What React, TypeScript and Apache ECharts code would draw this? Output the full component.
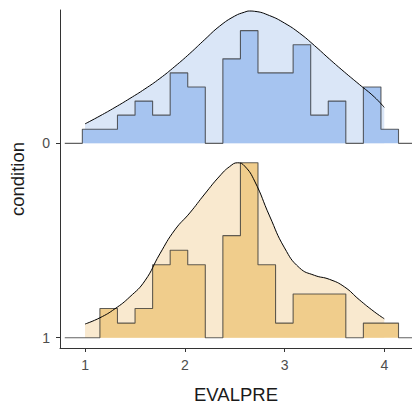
import React, { useEffect, useRef } from "react";
import * as echarts from "echarts";

// Rows from top to bottom
const conditions = ["0", "1"];
const rowBaselines = [1, 0];

// Histogram bins (EVALPRE)
const binStart = 0.973;
const binWidth = 0.1761;
const histCounts0 = [1, 1, 2, 3, 2, 5, 4, 0, 6, 8, 5, 5, 7, 2, 3, 0, 4, 1];
const histCounts1 = [0, 2, 1, 2, 5, 6, 5, 0, 7, 12, 5, 1, 3, 3, 3, 0, 1, 1];

// Kernel density estimates (relative units)
const densityX0 = [1.0, 1.15, 1.3, 1.45, 1.6, 1.75, 1.9, 2.05, 2.2, 2.35, 2.5, 2.6, 2.65, 2.7, 2.85, 3.0, 3.15, 3.3, 3.45, 3.6, 3.75, 3.9, 4.0];
const densityY0 = [19.5, 27.5, 36, 45, 54.5, 65, 77, 90, 104, 117.5, 127.5, 131.5, 132.6, 132.3, 128, 120.5, 110.5, 98, 84.5, 71.5, 59, 46.5, 36];
const densityX1 = [1.0, 1.15, 1.3, 1.45, 1.6, 1.75, 1.9, 2.05, 2.2, 2.35, 2.45, 2.53, 2.6, 2.7, 2.85, 3.0, 3.15, 3.3, 3.45, 3.6, 3.75, 3.9, 4.0];
const densityY1 = [13.7, 20, 29, 41, 57, 84, 108, 125, 144, 162, 171.5, 175.3, 172, 157, 122, 90, 70, 62.5, 58.5, 51, 38, 26, 19];

const xTicks = [1, 2, 3, 4];
const rowScale = 0.9;

const histFill = ["#a6c4f0", "#f0cd8c"];
const densFill = ["#dae6f7", "#f9e9cf"];

const sum = (a: number[]) => a.reduce((s, v) => s + v, 0);

export default function App() {
  const ref = useRef<HTMLDivElement>(null);

  useEffect(() => {
    if (!ref.current) return;
    const chart = echarts.init(ref.current, undefined, { renderer: "svg" });

    const counts = [histCounts0, histCounts1];
    const dX = [densityX0, densityX1];
    const dY = [densityY0, densityY1];
    const histMax = Math.max(...counts.map((c) => Math.max(...c) / sum(c)));
    const densMax = Math.max(...dY.map((d) => Math.max(...d)));

    const histPoints = (c: number[], base: number) => {
      const n = sum(c);
      const k = rowScale / histMax;
      const pts: number[][] = [
        [binStart - binWidth, base],
        [binStart, base],
      ];
      c.forEach((v, i) => {
        const h = base + (v / n) * k;
        pts.push([binStart + i * binWidth, h], [binStart + (i + 1) * binWidth, h]);
      });
      const end = binStart + c.length * binWidth;
      pts.push([end, base], [end + binWidth, base]);
      return pts;
    };

    const series: any[] = [];
    conditions.forEach((_, r) => {
      const base = rowBaselines[r];
      const dens = dX[r].map((x, i) => [x, base + (dY[r][i] / densMax) * rowScale]);
      series.push({
        type: "line",
        data: dens,
        smooth: 0.5,
        symbol: "none",
        lineStyle: { width: 0, opacity: 0 },
        areaStyle: { color: densFill[r], opacity: 1, origin: base },
        z: 1,
        silent: true,
      });
      series.push({
        type: "line",
        data: histPoints(counts[r], base),
        symbol: "none",
        lineStyle: { color: "rgba(45,45,45,0.75)", width: 1.1 },
        areaStyle: { color: histFill[r], opacity: 1, origin: base },
        z: 2,
        silent: true,
      });
      series.push({
        type: "line",
        data: dens,
        smooth: 0.5,
        symbol: "none",
        lineStyle: { color: "#000", width: 1 },
        z: 3,
        silent: true,
      });
    });

    chart.setOption({
      animation: false,
      textStyle: { fontFamily: "Liberation Sans, Arial, sans-serif" },
      grid: { left: 60, right: 0, top: 10, bottom: 57, outerBoundsMode: "none" },
      xAxis: {
        type: "value",
        min: 0.749,
        max: 4.278,
        name: "EVALPRE",
        nameLocation: "middle",
        nameGap: 37,
        nameTextStyle: { fontSize: 18.5, color: "#1a1a1a" },
        axisLine: { onZero: false, lineStyle: { color: "#333", width: 1 } },
        axisTick: { show: true, length: 4, customValues: xTicks, lineStyle: { color: "#333" } },
        axisLabel: { customValues: xTicks, fontSize: 14, color: "#4d4d4d", margin: 10 },
        splitLine: { show: false },
      },
      yAxis: {
        type: "value",
        min: -0.053,
        max: 1.686,
        name: "condition",
        nameLocation: "middle",
        nameGap: 33,
        nameTextStyle: { fontSize: 18.5, color: "#1a1a1a" },
        axisLine: { show: true, onZero: false, lineStyle: { color: "#333", width: 1 } },
        axisTick: { show: true, length: 4, customValues: rowBaselines, lineStyle: { color: "#333" } },
        axisLabel: {
          customValues: rowBaselines,
          fontSize: 14,
          color: "#4d4d4d",
          margin: 10,
          formatter: (v: number) => {
            const i = rowBaselines.findIndex((b) => Math.abs(b - v) < 1e-9);
            return i >= 0 ? conditions[i] : "";
          },
        },
        splitLine: { show: false },
      },
      series,
    });

    return () => chart.dispose();
  }, []);

  return (
    <div
      ref={ref}
      style={{ position: "absolute", left: 0, top: 0, width: 412, height: 405, background: "#fff" }}
    />
  );
}
